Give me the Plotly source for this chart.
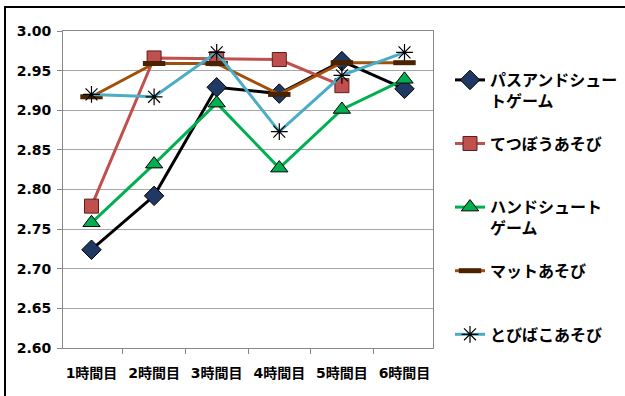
import plotly.graph_objects as go

categories = ["1時間目", "2時間目", "3時間目", "4時間目", "5時間目", "6時間目"]
y_ticks = [2.60, 2.65, 2.70, 2.75, 2.80, 2.85, 2.90, 2.95, 3.00]

names = ["パスアンドシュー<br>トゲーム", "てつぼうあそび<br> ", "ハンドシュート<br>ゲーム", "マットあそび<br> ", "とびばこあそび<br> "]
pass_shoot = [2.724, 2.792, 2.929, 2.921, 2.962, 2.927]
tetsubou = [2.779, 2.966, 2.965, 2.964, 2.931, None]
hand_shoot = [2.758, 2.832, 2.909, 2.827, 2.901, 2.939]
mat = [2.917, 2.959, 2.959, 2.920, 2.960, 2.960]
tobibako = [2.920, 2.917, 2.973, 2.873, 2.944, 2.973]

FONT = "DejaVu Sans, Noto Sans CJK JP, sans-serif"

fig = go.Figure()
fig.add_trace(go.Scatter(x=categories, y=pass_shoot, name=names[0], mode="lines+markers",
                         line=dict(color="#000000", width=3),
                         marker=dict(symbol="diamond", size=15, color="#1f3864", line=dict(color="#000000", width=1))))
fig.add_trace(go.Scatter(x=categories, y=tetsubou, name=names[1], mode="lines+markers",
                         line=dict(color="#c0504d", width=3),
                         marker=dict(symbol="square", size=14, color="#c0504d", line=dict(color="#5a1f1d", width=1))))
fig.add_trace(go.Scatter(x=categories, y=hand_shoot, name=names[2], mode="lines+markers",
                         line=dict(color="#00b050", width=3),
                         marker=dict(symbol="triangle-up", size=15, color="#00b050", line=dict(color="#000000", width=1))))
fig.add_trace(go.Scatter(x=categories, y=mat, name=names[3], mode="lines+markers",
                         line=dict(color="#a0500a", width=3),
                         marker=dict(symbol="line-ew-open", size=16, color="#4a2200", line=dict(color="#5a2a00", width=5))))
fig.add_trace(go.Scatter(x=categories, y=tobibako, name=names[4], mode="lines+markers",
                         line=dict(color="#4bacc6", width=3),
                         marker=dict(symbol="asterisk-open", size=14, color="#000000", line=dict(color="#000000", width=1.2))))

for i in range(5):
    fig.data[i].legendgroup = f"g{i}"

# outer chart border
fig.add_shape(type="rect", xref="paper", yref="paper",
              x0=(5 - 63) / 370, x1=(700 - 63) / 370,
              y0=1 - (450 - 31) / 317, y1=1 - (7 - 31) / 317,
              line=dict(color="#000000", width=2), fillcolor="rgba(0,0,0,0)", layer="below")

fig.update_layout(
    width=625, height=396,
    margin=dict(l=63, r=192, t=31, b=48, autoexpand=False),
    paper_bgcolor="white", plot_bgcolor="white",
    font=dict(family=FONT, size=14, color="#000000"),
    showlegend=True,
    legend=dict(x=(450 - 63) / 370, y=1 - (63 - 31) / 317, xanchor="left", yanchor="top",
                valign="top", tracegroupgap=19, traceorder="grouped", maxheight=1,
                font=dict(family=FONT, size=16, color="#000000", weight="bold"),
                bgcolor="rgba(0,0,0,0)"),
    xaxis=dict(type="category", showgrid=False, showline=True, linecolor="#888888", linewidth=1,
               mirror=True, ticks="outside", tickson="boundaries", ticklen=5, tickcolor="#888888",
               ticklabelstandoff=12, tickangle=0, automargin=False,
               tickfont=dict(family=FONT, size=14, weight="bold"), fixedrange=True),
    yaxis=dict(range=[2.60, 3.00], tickvals=y_ticks, ticktext=[f"{v:.2f}" for v in y_ticks],
               showgrid=True, gridcolor="#a6a6a6", gridwidth=1, showline=True, linecolor="#888888",
               mirror=True, ticks="outside", ticklen=5, tickcolor="#888888", zeroline=False,
               ticklabelstandoff=3, automargin=False,
               tickfont=dict(family=FONT, size=14, weight="bold"), fixedrange=True),
)

fig.write_html("out.html")
